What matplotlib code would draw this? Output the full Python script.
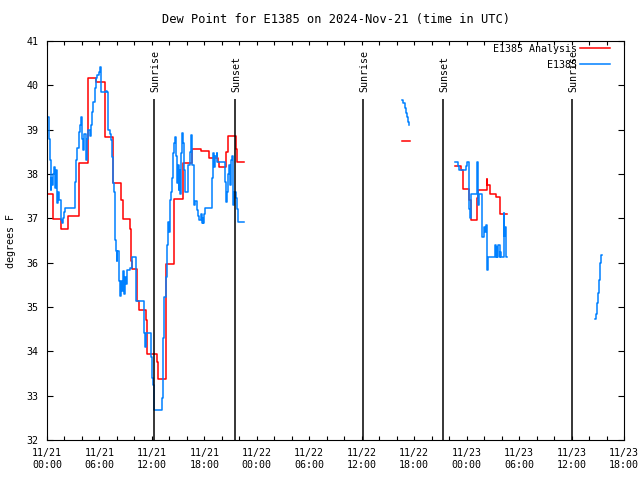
import numpy as np
import matplotlib
matplotlib.use('Agg')
from matplotlib import pyplot as plt

nan = np.nan

# hours since 2024-11-21 00:00 UTC, values in degrees F (step, post)
red_h = [0, 0.69, 1.64, 2.44, 3.66, 4.73, 5.64, 6.63, 7.59, 8.46, 8.65, 9.46, 9.65, 9.76,
         10.33, 10.5, 11.33, 11.48, 12.55, 12.73, 13.57, 13.65, 14.56, 15.59, 16.55, 17.62,
         18.58, 19.61, 19.68, 20.48, 20.67, 21.58, 21.70, 22.54,
         40.6, 41.5,
         46.67, 47.32, 47.55, 47.62, 48.31, 48.47, 49.23, 49.34, 50.29, 50.37, 50.67, 51.36,
         51.82, 52.58]
red_v = [37.56, 36.98, 36.75, 37.05, 38.24, 40.16, 40.07, 38.84, 37.79, 37.41, 36.98, 36.75,
         36.04, 35.85, 35.14, 34.93, 34.71, 33.93, 33.77, 33.38, 35.2, 35.96, 37.43, 38.24,
         38.56, 38.52, 38.37, 38.26, 38.15, 38.5, 38.86, 38.56, 38.26, nan,
         38.74, nan,
         38.18, 38.09, 37.90, 37.66, 37.41, 36.96, 37.45, 37.64, 37.88, 37.75, 37.55, 37.47,
         37.10, 37.10]

blue_h = [0, 0.19, 0.30, 0.42, 0.50, 0.61, 0.72, 0.80, 0.92, 0.99, 1.11, 1.22, 1.41, 1.56,
          1.68, 1.83, 1.94, 2.06, 3.16, 3.28, 3.36, 3.47, 3.66, 3.77, 3.93, 4.04, 4.16, 4.27,
          4.42, 4.61, 4.73, 4.92, 4.99, 5.19, 5.30, 5.45, 5.57, 5.76, 5.95, 6.06, 6.18, 6.21,
          6.71, 6.90, 6.98, 7.17, 7.28, 7.47, 7.59, 7.66, 7.78, 7.85, 7.97, 8.04, 8.23, 8.35,
          8.50, 8.62, 8.73, 8.81, 8.92, 9.00, 9.11, 9.19, 9.49, 9.76, 10.22, 11.05, 11.21,
          11.32, 11.95, 12.02, 12.16, 12.28, 13.19, 13.31, 13.42, 13.57, 13.69, 13.80, 13.88,
          13.99, 14.07, 14.18, 14.26, 14.38, 14.45, 14.56, 14.64, 14.76, 14.83, 14.95, 15.06,
          15.14, 15.25, 15.33, 15.44, 15.52, 15.63, 15.71, 15.82, 16.17, 16.36, 16.44, 16.55,
          16.63, 16.81, 16.93, 17.12, 17.31, 17.42, 17.58, 17.69, 17.80, 17.88, 17.99, 18.07,
          18.91, 19.02, 19.14, 19.22, 19.41, 19.48, 20.36, 20.48, 20.55, 20.67, 20.83, 20.93,
          21.05, 21.20, 21.31, 21.43, 21.58, 21.70, 21.81, 21.89, 22.54,
          40.6, 40.76, 40.91, 41.03, 41.14, 41.26, 41.37, 41.45,
          46.67, 47.05, 47.17, 47.93, 48.08, 48.31, 48.39, 48.5, 49.23, 49.31, 49.39, 49.73,
          49.81, 50.0, 50.12, 50.19, 50.31, 50.38, 50.5, 51.3, 51.37, 51.45, 51.53, 51.64,
          51.76, 51.83, 51.95, 52.22, 52.29, 52.41, 52.52, 52.6,
          62.74, 62.80, 62.92, 63.03, 63.15, 63.26, 63.37, 63.45]
blue_v = [39.29, 38.80, 38.32, 37.64, 37.90, 37.75, 38.01, 38.16, 37.68, 38.10, 37.34, 37.60,
          37.41, 36.96, 36.89, 37.00, 37.15, 37.23, 37.83, 38.09, 38.32, 38.58, 38.95, 39.11,
          39.29, 38.80, 38.54, 38.90, 38.32, 38.80, 38.99, 38.85, 39.11, 39.40, 39.63, 39.93,
          40.16, 40.23, 40.31, 40.41, 40.00, 39.84, 39.88, 39.84, 38.99, 38.90, 38.77, 38.39,
          37.79, 37.60, 36.51, 36.27, 36.04, 36.27, 35.59, 35.25, 35.59, 35.37, 35.82, 35.29,
          35.67, 35.52, 35.71, 35.83, 35.88, 36.12, 35.14, 34.41, 34.10, 34.41, 33.87, 33.39,
          33.24, 32.68, 32.94, 34.29, 35.23, 35.68, 36.40, 36.59, 36.92, 36.70, 37.41, 37.60,
          37.90, 38.32, 38.47, 38.69, 38.84, 38.40, 37.79, 38.20, 37.64, 38.10, 37.56, 38.47,
          38.92, 38.69, 38.60, 38.09, 37.60, 38.20, 38.50, 38.88, 38.47, 38.20, 37.30, 37.40,
          37.19, 37.05, 36.96, 37.10, 36.89, 37.00, 36.89, 37.10, 37.23, 37.90, 38.47, 38.16,
          38.40, 38.47, 38.28, 37.83, 37.37, 37.60, 38.00, 38.20, 37.75, 38.32, 38.40, 37.30,
          37.60, 37.45, 37.20, 36.96, 36.92, nan,
          39.68, 39.61, 39.48, 39.37, 39.29, 39.18, 39.10, nan,
          38.27, 38.18, 38.09, 38.18, 38.27, 37.20, 37.00, 37.56, 38.27, 37.30, 37.56, 37.56,
          36.59, 36.81, 36.70, 36.85, 36.36, 35.83, 36.13, 36.40, 36.13, 36.36, 36.13, 36.40,
          36.13, 36.25, 36.13, 37.11, 36.60, 36.80, 36.13, nan,
          34.72, 34.84, 35.08, 35.32, 35.62, 35.99, 36.17, 36.17]

sun_h = [12.24, 21.51, 36.15, 45.30, 60.06]
sun_lbl = ['Sunrise', 'Sunset', 'Sunrise', 'Sunset', 'Sunrise']

tick_h = list(range(0, 67, 6))
tick_day = ['11/21'] * 4 + ['11/22'] * 4 + ['11/23'] * 4
tick_time = ['00:00', '06:00', '12:00', '18:00'] * 3

plt.rcParams['font.family'] = 'DejaVu Sans Mono'
plt.rcParams['font.size'] = 7.2

fig = plt.figure(figsize=(6.4, 4.8), dpi=100)
ax = fig.add_axes([47/640, 40/480, 577/640, 399/480])

ax.step(red_h, red_v, where='post', color='#ff0000', lw=1.1, label='E1385 Analysis')
ax.step(blue_h, blue_v, where='post', color='#0080ff', lw=1.1, label='E1385')

ax.vlines(sun_h, 32, 39.69, colors='black', lw=1.1)
for h, s in zip(sun_h, sun_lbl):
    ax.text(h + 0.1, 39.84, s, rotation=90, ha='center', va='bottom')

ax.set_xlim(0, 66)
ax.set_ylim(32, 41)
ax.set_xticks(tick_h)
ax.set_xticklabels([d + '\n' + t for d, t in zip(tick_day, tick_time)])
ax.set_xticks(range(0, 67, 2), minor=True)
ax.set_yticks(range(32, 42))
ax.tick_params(axis='both', which='both', direction='in', top=True, right=True, width=0.8)
ax.tick_params(axis='x', which='major', length=3, pad=6)
ax.tick_params(axis='x', which='minor', length=3)
ax.tick_params(axis='y', length=4.3, pad=6)
for sp in ax.spines.values():
    sp.set_linewidth(0.8)

ax.set_ylabel('degrees F', labelpad=8)
ax.set_title('Dew Point for E1385 on 2024-Nov-21 (time in UTC)', pad=13)

ax.legend(loc='upper right', frameon=False, markerfirst=False, handlelength=3.0,
          handletextpad=0.3, labelspacing=0.6, borderaxespad=0.0, borderpad=0.0,
          bbox_to_anchor=(563/577, 1.0 - 3/399))

fig.savefig('out.png', dpi=100)
